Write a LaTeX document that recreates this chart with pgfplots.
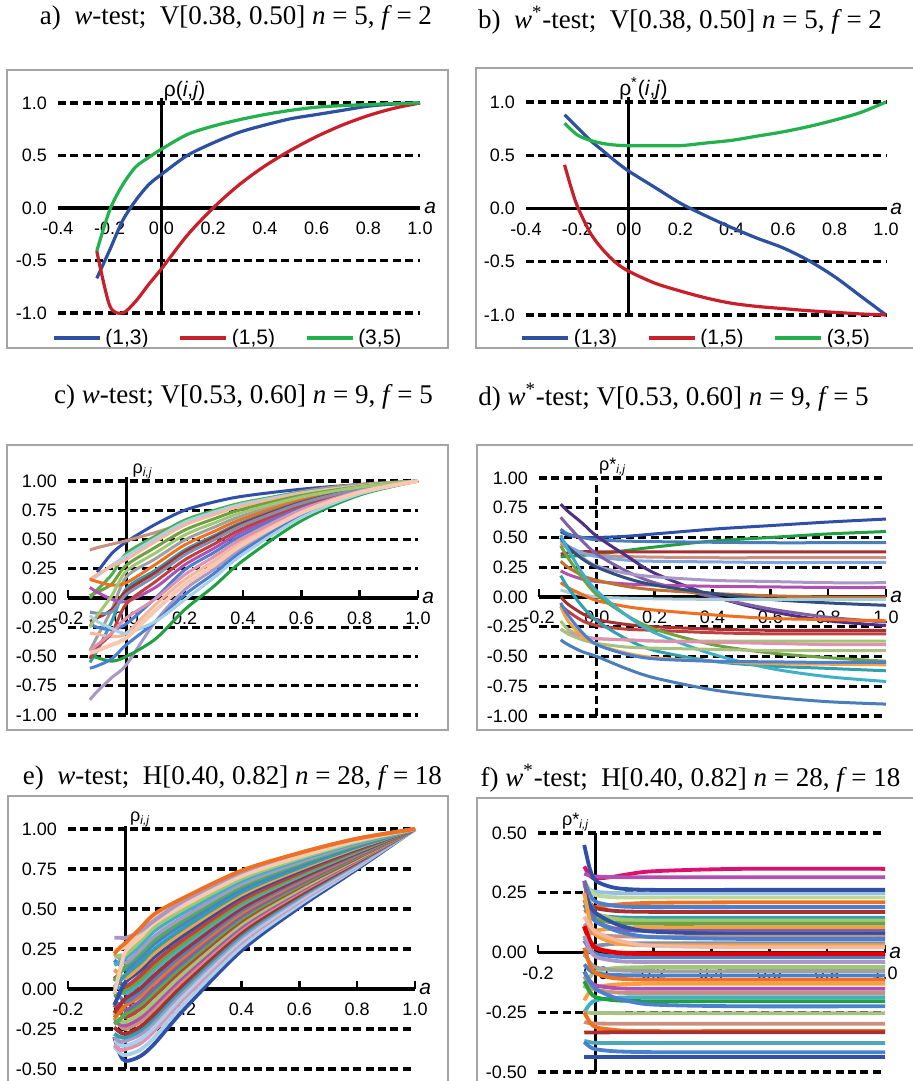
\documentclass[border=0pt]{standalone}
\usepackage{fontspec}
\setmainfont{Liberation Serif}
\setsansfont{Liberation Sans}
\usepackage{pgfplots}
\pgfplotsset{compat=1.18}

\definecolor{ablue}{HTML}{2E50A0}
\definecolor{ared}{HTML}{C8202A}
\definecolor{agreen}{HTML}{22B14C}
\definecolor{boxgray}{HTML}{A4A4A4}
\definecolor{pBlueD}{HTML}{3050A8}
\definecolor{pSalm}{HTML}{C89080}
\definecolor{pGreen}{HTML}{4CB04C}
\definecolor{pLBlue}{HTML}{A8D0E8}
\definecolor{pPeach}{HTML}{F4B8A0}
\definecolor{pOlive}{HTML}{70A040}
\definecolor{pGray}{HTML}{A0A0A0}
\definecolor{pOrange}{HTML}{F07020}
\definecolor{pTeal}{HTML}{30A0B0}
\definecolor{pDRed}{HTML}{A83030}
\definecolor{pMag}{HTML}{B050B0}
\definecolor{pBlue}{HTML}{4A80D0}
\definecolor{pLav}{HTML}{A898C8}
\definecolor{pLPeach}{HTML}{F8C8B0}
\definecolor{pGreenD}{HTML}{20A040}
\definecolor{pRed}{HTML}{C04040}
\definecolor{pGBlue}{HTML}{8090B0}
\definecolor{pLGreen}{HTML}{A0C870}
\definecolor{pPink}{HTML}{E090B0}
\definecolor{pDPurp}{HTML}{503080}
\definecolor{pPurp}{HTML}{8060A8}
\definecolor{pBrown}{HTML}{C07030}
\definecolor{pAqua}{HTML}{40B0C8}
\definecolor{pLOrange}{HTML}{F8A040}
\definecolor{pSlate}{HTML}{305080}
\definecolor{pPinkR}{HTML}{E0106A}
\definecolor{pSteel}{HTML}{4A7EB8}
\definecolor{pGGreen}{HTML}{A8C080}
\definecolor{pPale}{HTML}{A8CCD8}

\newcommand{\tickfont}{\sffamily\fontsize{9}{10}\selectfont}
\newcommand{\rhofont}{\sffamily\fontsize{10.5}{12}\selectfont}
\newcommand{\ttl}{\fontsize{13.5}{16}\selectfont}
\newcommand{\alab}{\sffamily\itshape\fontsize{10.5}{12}\selectfont}

\pgfplotsset{
  panel/.style={
    anchor=south west,
    scale only axis,
    clip=false,
    axis x line=middle,
    axis y line=left,
    hide obscured x ticks=false,
    hide obscured y ticks=false,
    x axis line style={-, line width=1.6pt},
    y axis line style={draw=none},
    ytick style={draw=none},
    xtick style={line width=1.2pt, black},
    xtick align=inside,
    major tick length=4pt,
    ymajorgrids,
    major grid style={black, line width=1.6pt, dash pattern=on 4pt off 2.2pt},
    tick label style={font=\tickfont},
    /pgf/number format/assume math mode=true,
    scaled ticks=false,
    xticklabel style={yshift=-3.5pt, /pgf/number format/fixed, /pgf/number format/fixed zerofill, /pgf/number format/precision=1},
    every axis plot/.append style={line width=1.3pt, smooth},
  },
  prec1/.style={yticklabel style={/pgf/number format/fixed, /pgf/number format/fixed zerofill, /pgf/number format/precision=1}},
  prec2/.style={yticklabel style={/pgf/number format/fixed, /pgf/number format/fixed zerofill, /pgf/number format/precision=2}},
  lgd/.style={
    legend columns=3,
    legend style={at={#1}, anchor=center, draw=none, fill=none, font=\rhofont,
      /tikz/every even column/.append style={column sep=13pt}},
    legend image code/.code={\draw[##1] (0pt,0pt) -- (23pt,0pt);},
  },
}

\begin{document}
\begin{tikzpicture}
\fill[white] (0,0) rectangle (456.5pt,540.5pt);

% ---------- a ----------
\begin{axis}[panel, prec1, at={(29pt,384pt)}, width=181pt, height=105pt,
  xmin=-0.4, xmax=1.0, ymin=-1, ymax=1,
  xtick={-0.4,-0.2,0,0.2,0.4,0.6,0.8,1.0}, ytick={-1,-0.5,0,0.5,1},
  xtick style={draw=none}, lgd={(0.472,-0.119)},
  every axis plot/.append style={line width=1.6pt}]
\draw[line width=1.6pt] (axis cs:0,-1) -- (axis cs:0,1.05);
\addplot[ablue] coordinates {(-0.25,-0.67)(-0.2,-0.4)(-0.15,-0.12)(-0.1,0.07)(-0.05,0.22)(0,0.32)(0.1,0.5)(0.2,0.62)(0.3,0.72)(0.4,0.79)(0.5,0.85)(0.6,0.89)(0.7,0.93)(0.8,0.97)(0.9,0.99)(1.0,1.0)};
\addlegendentry{(1,3)}
\addplot[ared] coordinates {(-0.25,-0.41)(-0.2,-0.93)(-0.15,-1.0)(-0.1,-0.89)(-0.05,-0.73)(0,-0.58)(0.1,-0.26)(0.2,0.0)(0.3,0.22)(0.4,0.40)(0.5,0.55)(0.6,0.68)(0.7,0.79)(0.8,0.88)(0.9,0.95)(1.0,1.0)};
\addlegendentry{(1,5)}
\addplot[agreen] coordinates {(-0.25,-0.41)(-0.2,-0.02)(-0.15,0.22)(-0.1,0.39)(-0.05,0.48)(0,0.56)(0.1,0.70)(0.2,0.78)(0.3,0.84)(0.4,0.89)(0.5,0.93)(0.6,0.96)(0.7,0.975)(0.8,0.985)(0.9,0.995)(1.0,1.0)};
\addlegendentry{(3,5)}
\node[font=\rhofont, anchor=south west, inner sep=1pt] at (axis cs:0,1) {ρ(\textit{i},\textit{j})};
\node[font=\alab, anchor=west, inner sep=2pt] at (axis cs:1.0,0) {a};
\end{axis}

% ---------- b ----------
\begin{axis}[panel, prec1, at={(263pt,383pt)}, width=180pt, height=106.5pt,
  xmin=-0.4, xmax=1.0, ymin=-1, ymax=1,
  xtick={-0.4,-0.2,0,0.2,0.4,0.6,0.8,1.0}, ytick={-1,-0.5,0,0.5,1},
  xtick style={draw=none}, lgd={(0.476,-0.108)},
  every axis plot/.append style={line width=1.6pt}]
\draw[line width=1.6pt] (axis cs:0,-1) -- (axis cs:0,1.05);
\addplot[ablue] coordinates {(-0.25,0.88)(-0.2,0.76)(-0.15,0.64)(-0.1,0.54)(-0.05,0.44)(0,0.35)(0.1,0.20)(0.2,0.05)(0.3,-0.07)(0.4,-0.18)(0.5,-0.28)(0.6,-0.37)(0.7,-0.49)(0.8,-0.64)(0.9,-0.82)(1.0,-1.0)};
\addlegendentry{(1,3)}
\addplot[ared] coordinates {(-0.25,0.41)(-0.225,0.2)(-0.2,0.02)(-0.15,-0.23)(-0.1,-0.39)(-0.05,-0.51)(0,-0.59)(0.1,-0.70)(0.2,-0.775)(0.3,-0.84)(0.4,-0.89)(0.5,-0.92)(0.6,-0.94)(0.7,-0.96)(0.8,-0.975)(0.9,-0.99)(1.0,-1.0)};
\addlegendentry{(1,5)}
\addplot[agreen] coordinates {(-0.25,0.80)(-0.2,0.69)(-0.15,0.64)(-0.1,0.61)(-0.05,0.595)(0,0.59)(0.1,0.59)(0.2,0.59)(0.3,0.615)(0.4,0.64)(0.5,0.68)(0.6,0.72)(0.7,0.77)(0.8,0.83)(0.9,0.90)(1.0,1.0)};
\addlegendentry{(3,5)}
\node[font=\rhofont, anchor=south west, inner sep=1pt, xshift=-6pt] at (axis cs:0,1) {ρ\textsuperscript{*}(\textit{i},\textit{j})};
\node[font=\alab, anchor=west, inner sep=2pt] at (axis cs:1.0,0) {a};
\end{axis}

% ---------- c ----------
\begin{axis}[panel, prec2, at={(34pt,183pt)}, width=175pt, height=117pt,
  xmin=-0.2, xmax=1.0, ymin=-1, ymax=1,
  xtick={-0.2,0,0.2,0.4,0.6,0.8,1.0}, ytick={-1,-0.75,-0.5,-0.25,0,0.25,0.5,0.75,1},
  every axis plot/.append style={line width=1.5pt}]
\draw[line width=1.6pt] (axis cs:0,-1) -- (axis cs:0,1.03);
\addplot[pBlueD] coordinates {(-0.1,0.22)(-0.05,0.38)(0,0.48)(0.1,0.63)(0.2,0.75)(0.3,0.82)(0.4,0.87)(0.6,0.93)(0.8,0.97)(1,1)};
\addplot[pSalm] coordinates {(-0.125,0.41)(-0.1,0.43)(-0.05,0.46)(0,0.49)(0.1,0.56)(0.2,0.64)(0.3,0.72)(0.4,0.80)(0.6,0.91)(0.8,0.97)(1,1)};
\addplot[pGreen] coordinates {(-0.125,0.0)(-0.1,0.07)(-0.05,0.2)(0,0.38)(0.1,0.53)(0.2,0.665)(0.3,0.748)(0.4,0.815)(0.6,0.903)(0.8,0.961)(1,1)};
\addplot[pLBlue] coordinates {(-0.125,0.15)(-0.1,0.19)(-0.05,0.28)(0,0.36)(0.1,0.51)(0.2,0.648)(0.3,0.734)(0.4,0.804)(0.6,0.898)(0.8,0.959)(1,1)};
\addplot[pPeach] coordinates {(-0.125,0.16)(-0.1,0.2)(-0.05,0.27)(0,0.33)(0.1,0.483)(0.2,0.623)(0.3,0.712)(0.4,0.788)(0.6,0.89)(0.8,0.957)(1,1)};
\addplot[pOlive] coordinates {(-0.125,0.02)(-0.1,0.05)(-0.05,0.12)(0,0.28)(0.1,0.434)(0.2,0.58)(0.3,0.676)(0.4,0.76)(0.6,0.876)(0.8,0.952)(1,1)};
\addplot[pGray] coordinates {(-0.125,-0.45)(-0.1,-0.33)(-0.05,-0.1)(0,0.18)(0.1,0.336)(0.2,0.495)(0.3,0.604)(0.4,0.705)(0.6,0.849)(0.8,0.943)(1,1)};
\addplot[pOrange] coordinates {(-0.125,0.16)(-0.1,0.14)(-0.05,0.11)(0,0.13)(0.1,0.287)(0.2,0.453)(0.3,0.568)(0.4,0.678)(0.6,0.836)(0.8,0.939)(1,1)};
\addplot[pTeal] coordinates {(-0.125,-0.55)(-0.1,-0.45)(-0.05,-0.2)(0,0.08)(0.1,0.238)(0.2,0.41)(0.3,0.532)(0.4,0.65)(0.6,0.822)(0.8,0.934)(1,1)};
\addplot[pDRed] coordinates {(-0.125,-0.2)(-0.1,-0.17)(-0.05,-0.1)(0,0.06)(0.1,0.218)(0.2,0.393)(0.3,0.518)(0.4,0.639)(0.6,0.817)(0.8,0.932)(1,1)};
\addplot[pMag] coordinates {(-0.125,0.09)(-0.1,0.05)(-0.05,-0.01)(0,-0.03)(0.1,0.091)(0.2,0.283)(0.3,0.424)(0.4,0.568)(0.6,0.782)(0.8,0.92)(1,1)};
\addplot[pBlue] coordinates {(-0.125,-0.22)(-0.1,-0.25)(-0.05,-0.27)(0,-0.22)(0.1,0.0)(0.2,0.24)(0.3,0.388)(0.4,0.54)(0.6,0.768)(0.8,0.916)(1,1)};
\addplot[pLav] coordinates {(-0.125,-0.87)(-0.1,-0.8)(-0.05,-0.68)(0,-0.57)(0.1,-0.2)(0.2,0.07)(0.3,0.244)(0.4,0.43)(0.6,0.714)(0.8,0.898)(1,1)};
\addplot[pPeach] coordinates {(-0.125,-0.3)(-0.1,-0.31)(-0.05,-0.33)(0,-0.3)(0.1,-0.056)(0.2,0.155)(0.3,0.316)(0.4,0.485)(0.6,0.741)(0.8,0.907)(1,1)};
\addplot[pGreenD] coordinates {(-0.125,-0.49)(-0.1,-0.51)(-0.05,-0.54)(0,-0.5)(0.1,-0.35)(0.2,-0.1)(0.3,0.1)(0.4,0.32)(0.6,0.66)(0.8,0.88)(1,1)};
\addplot[pRed] coordinates {(-0.125,-0.52)(-0.1,-0.42)(-0.05,-0.3)(0,-0.05)(0.1,0.14)(0.2,0.325)(0.3,0.46)(0.4,0.595)(0.6,0.795)(0.8,0.925)(1,1)};
\addplot[pGBlue] coordinates {(-0.125,-0.12)(-0.1,-0.13)(-0.05,-0.12)(0,0.03)(0.1,0.189)(0.2,0.368)(0.3,0.496)(0.4,0.623)(0.6,0.809)(0.8,0.93)(1,1)};
\addplot[pLGreen] coordinates {(-0.125,-0.25)(-0.1,-0.15)(-0.05,0.02)(0,0.23)(0.1,0.385)(0.2,0.538)(0.3,0.64)(0.4,0.733)(0.6,0.863)(0.8,0.948)(1,1)};
\addplot[pBlue] coordinates {(-0.125,-0.6)(-0.1,-0.58)(-0.05,-0.52)(0,-0.4)(0.1,-0.203)(0.2,0.028)(0.3,0.208)(0.4,0.403)(0.6,0.7)(0.8,0.894)(1,1)};
\addplot[pPink] coordinates {(-0.125,-0.45)(-0.1,-0.4)(-0.05,-0.3)(0,-0.17)(0.1,-0.007)(0.2,0.198)(0.3,0.352)(0.4,0.513)(0.6,0.755)(0.8,0.911)(1,1)};
\addplot[pLBlue] coordinates {(-0.125,-0.15)(-0.1,-0.2)(-0.05,-0.26)(0,-0.3)(0.1,-0.2)(0.2,-0.015)(0.3,0.172)(0.4,0.375)(0.6,0.687)(0.8,0.889)(1,1)};
\addplot[pLPeach, line width=2pt] coordinates {(-0.125,-0.47)(-0.1,-0.45)(-0.05,-0.4)(0,-0.34)(0.1,-0.105)(0.2,0.113)(0.3,0.28)(0.4,0.458)(0.6,0.728)(0.8,0.903)(1,1)};
\node[font=\tickfont, anchor=south west, inner sep=1pt, xshift=2pt] at (axis cs:0,1) {ρ\textsubscript{\textit{i,j}}};
\node[font=\alab, anchor=west, inner sep=2pt] at (axis cs:1.0,0) {a};
\end{axis}

% ---------- d ----------
\begin{axis}[panel, prec2, at={(269.5pt,182.5pt)}, width=173.5pt, height=119pt,
  xmin=-0.2, xmax=1.0, ymin=-1, ymax=1,
  xtick={-0.2,0,0.2,0.4,0.6,0.8,1.0}, ytick={-1,-0.75,-0.5,-0.25,0,0.25,0.5,0.75,1},
  every axis plot/.append style={line width=1.5pt}]
\draw[line width=1.6pt, dash pattern=on 4pt off 2.2pt] (axis cs:0,-1) -- (axis cs:0,1.0);
\addplot[pBlueD] coordinates {(-0.125,0.55)(-0.1,0.52)(-0.05,0.50)(0,0.50)(0.1,0.51)(0.2,0.53)(0.4,0.57)(0.6,0.60)(0.8,0.63)(1,0.655)};
\addplot[pGreenD] coordinates {(-0.125,0.34)(-0.1,0.34)(-0.05,0.35)(0,0.36)(0.1,0.39)(0.2,0.42)(0.4,0.47)(0.6,0.50)(0.8,0.53)(1,0.55)};
\addplot[pSteel] coordinates {(-0.125,0.57)(-0.1,0.53)(-0.05,0.50)(0,0.48)(0.1,0.47)(0.2,0.465)(0.4,0.46)(0.6,0.456)(0.8,0.456)(1,0.456)};
\addplot[pDRed] coordinates {(-0.125,0.36)(-0.1,0.37)(-0.05,0.38)(0,0.38)(0.1,0.38)(0.2,0.38)(0.4,0.38)(0.6,0.38)(0.8,0.38)(1,0.38)};
\addplot[pSalm] coordinates {(-0.125,0.45)(-0.1,0.41)(-0.05,0.37)(0,0.35)(0.1,0.34)(0.2,0.335)(0.4,0.33)(0.6,0.33)(0.8,0.33)(1,0.33)};
\addplot[pBlue!70] coordinates {(-0.125,0.48)(-0.1,0.43)(-0.05,0.37)(0,0.34)(0.1,0.31)(0.2,0.30)(0.4,0.295)(0.6,0.29)(0.8,0.29)(1,0.29)};
\addplot[pDPurp] coordinates {(-0.125,0.78)(-0.1,0.72)(-0.05,0.62)(0,0.51)(0.1,0.35)(0.2,0.20)(0.4,0.01)(0.6,-0.12)(0.8,-0.20)(1,-0.24)};
\addplot[pPurp] coordinates {(-0.125,0.67)(-0.1,0.60)(-0.05,0.47)(0,0.36)(0.1,0.22)(0.2,0.12)(0.4,0.0)(0.6,-0.10)(0.8,-0.17)(1,-0.21)};
\addplot[pLav] coordinates {(-0.125,0.47)(-0.1,0.42)(-0.05,0.33)(0,0.26)(0.1,0.20)(0.2,0.17)(0.4,0.14)(0.6,0.13)(0.8,0.12)(1,0.12)};
\addplot[pMag] coordinates {(-0.125,0.22)(-0.1,0.19)(-0.05,0.15)(0,0.13)(0.1,0.11)(0.2,0.10)(0.4,0.09)(0.6,0.085)(0.8,0.08)(1,0.08)};
\addplot[pBrown] coordinates {(-0.125,0.30)(-0.1,0.25)(-0.05,0.18)(0,0.14)(0.1,0.09)(0.2,0.06)(0.4,0.03)(0.6,0.01)(0.8,0.0)(1,0.0)};
\addplot[pSlate] coordinates {(-0.125,0.50)(-0.1,0.42)(-0.05,0.32)(0,0.25)(0.1,0.16)(0.2,0.10)(0.4,0.03)(0.6,-0.02)(0.8,-0.05)(1,-0.07)};
\addplot[pPale] coordinates {(-0.125,0.06)(-0.1,0.04)(-0.05,0.02)(0,0.0)(0.1,-0.01)(0.2,-0.015)(0.4,-0.02)(0.6,-0.02)(0.8,-0.02)(1,-0.02)};
\addplot[pOrange] coordinates {(-0.125,0.12)(-0.1,0.08)(-0.05,0.02)(0,-0.03)(0.1,-0.08)(0.2,-0.11)(0.4,-0.15)(0.6,-0.18)(0.8,-0.19)(1,-0.20)};
\addplot[pRed] coordinates {(-0.125,-0.07)(-0.1,-0.12)(-0.05,-0.20)(0,-0.24)(0.1,-0.27)(0.2,-0.28)(0.4,-0.30)(0.6,-0.31)(0.8,-0.31)(1,-0.31)};
\addplot[pDRed] coordinates {(-0.125,0.0)(-0.1,-0.06)(-0.05,-0.14)(0,-0.19)(0.1,-0.23)(0.2,-0.25)(0.4,-0.27)(0.6,-0.28)(0.8,-0.28)(1,-0.28)};
\addplot[pOlive] coordinates {(-0.125,0.43)(-0.1,0.33)(-0.05,0.16)(0,0.02)(0.1,-0.15)(0.2,-0.27)(0.4,-0.40)(0.6,-0.47)(0.8,-0.51)(1,-0.54)};
\addplot[pTeal] coordinates {(-0.125,0.18)(-0.1,0.08)(-0.05,-0.08)(0,-0.20)(0.1,-0.35)(0.2,-0.45)(0.4,-0.54)(0.6,-0.58)(0.8,-0.60)(1,-0.62)};
\addplot[pAqua] coordinates {(-0.125,0.52)(-0.1,0.40)(-0.05,0.20)(0,0.05)(0.1,-0.15)(0.2,-0.30)(0.4,-0.48)(0.6,-0.60)(0.8,-0.67)(1,-0.71)};
\addplot[pLGreen] coordinates {(-0.125,-0.20)(-0.1,-0.27)(-0.05,-0.33)(0,-0.35)(0.1,-0.36)(0.2,-0.37)(0.4,-0.37)(0.6,-0.37)(0.8,-0.37)(1,-0.37)};
\addplot[pPink] coordinates {(-0.125,-0.27)(-0.1,-0.30)(-0.05,-0.33)(0,-0.35)(0.1,-0.36)(0.2,-0.37)(0.4,-0.38)(0.6,-0.39)(0.8,-0.40)(1,-0.40)};
\addplot[pGGreen] coordinates {(-0.125,-0.27)(-0.1,-0.31)(-0.05,-0.36)(0,-0.39)(0.1,-0.42)(0.2,-0.43)(0.4,-0.44)(0.6,-0.45)(0.8,-0.45)(1,-0.45)};
\addplot[pLOrange] coordinates {(-0.125,-0.08)(-0.1,-0.20)(-0.05,-0.33)(0,-0.40)(0.1,-0.47)(0.2,-0.51)(0.4,-0.54)(0.6,-0.56)(0.8,-0.565)(1,-0.57)};
\addplot[pBlue] coordinates {(-0.125,-0.05)(-0.1,-0.15)(-0.05,-0.30)(0,-0.40)(0.1,-0.48)(0.2,-0.52)(0.4,-0.54)(0.6,-0.545)(0.8,-0.55)(1,-0.55)};
\addplot[pSteel] coordinates {(-0.125,-0.36)(-0.1,-0.40)(-0.05,-0.46)(0,-0.50)(0.1,-0.60)(0.2,-0.68)(0.4,-0.78)(0.6,-0.84)(0.8,-0.88)(1,-0.90)};
\node[font=\tickfont, anchor=south west, inner sep=1pt, xshift=0pt] at (axis cs:0,1) {ρ*\textsubscript{\textit{i,j}}};
\node[font=\alab, anchor=west, inner sep=2pt] at (axis cs:1.0,0) {a};
\end{axis}

% ---------- e ----------
\begin{axis}[panel, prec2, at={(34pt,6pt)}, width=173.5pt, height=120pt,
  xmin=-0.2, xmax=1.0, ymin=-0.5, ymax=1,
  xtick={-0.2,0,0.2,0.4,0.6,0.8,1.0}, ytick={-0.5,-0.25,0,0.25,0.5,0.75,1},
  every axis plot/.append style={line width=1.9pt}]
\draw[line width=1.6pt] (axis cs:0,-0.5) -- (axis cs:0,1.02);
\addplot[pBlueD] coordinates {(-0.04,-0.30)(-0.02,-0.41)(0,-0.45)(0.05,-0.42)(0.1,-0.34)(0.2,-0.13)(0.4,0.24)(0.6,0.51)(0.8,0.75)(1,1)};
\addplot[pLBlue] coordinates {(-0.04,-0.36)(-0.02,-0.40)(0,-0.413)(0.05,-0.38)(0.1,-0.30)(0.2,-0.095)(0.4,0.265)(0.6,0.527)(0.8,0.76)(1,1)};
\addplot[pPink] coordinates {(-0.04,-0.35)(-0.02,-0.38)(0,-0.376)(0.05,-0.34)(0.1,-0.259)(0.2,-0.06)(0.4,0.29)(0.6,0.544)(0.8,0.769)(1,1)};
\addplot[pLBlue] coordinates {(-0.04,-0.32)(-0.02,-0.35)(0,-0.354)(0.05,-0.316)(0.1,-0.235)(0.2,-0.039)(0.4,0.305)(0.6,0.554)(0.8,0.775)(1,1)};
\addplot[pLav] coordinates {(-0.04,-0.30)(-0.02,-0.33)(0,-0.324)(0.05,-0.284)(0.1,-0.202)(0.2,-0.011)(0.4,0.325)(0.6,0.568)(0.8,0.782)(1,1)};
\addplot[pTeal] coordinates {(-0.04,-0.28)(-0.02,-0.30)(0,-0.302)(0.05,-0.26)(0.1,-0.178)(0.2,0.01)(0.4,0.34)(0.6,0.578)(0.8,0.788)(1,1)};
\addplot[pDRed] coordinates {(-0.04,-0.24)(-0.02,-0.27)(0,-0.28)(0.05,-0.236)(0.1,-0.154)(0.2,0.031)(0.4,0.355)(0.6,0.588)(0.8,0.794)(1,1)};
\addplot[pSalm] coordinates {(-0.04,-0.18)(-0.02,-0.23)(0,-0.25)(0.05,-0.204)(0.1,-0.121)(0.2,0.059)(0.4,0.375)(0.6,0.602)(0.8,0.801)(1,1)};
\addplot[pMag] coordinates {(-0.04,-0.20)(-0.02,-0.22)(0,-0.228)(0.05,-0.18)(0.1,-0.097)(0.2,0.08)(0.4,0.39)(0.6,0.612)(0.8,0.807)(1,1)};
\addplot[pLGreen] coordinates {(-0.04,-0.15)(-0.02,-0.20)(0,-0.206)(0.05,-0.156)(0.1,-0.073)(0.2,0.101)(0.4,0.405)(0.6,0.622)(0.8,0.813)(1,1)};
\addplot[pRed] coordinates {(-0.04,-0.10)(-0.02,-0.14)(0,-0.176)(0.05,-0.124)(0.1,-0.04)(0.2,0.129)(0.4,0.425)(0.6,0.636)(0.8,0.82)(1,1)};
\addplot[pGreen] coordinates {(-0.04,-0.22)(-0.02,-0.19)(0,-0.154)(0.05,-0.10)(0.1,-0.016)(0.2,0.15)(0.4,0.44)(0.6,0.646)(0.8,0.826)(1,1)};
\addplot[pPurp] coordinates {(-0.04,-0.08)(-0.02,-0.10)(0,-0.132)(0.05,-0.076)(0.1,0.008)(0.2,0.171)(0.4,0.455)(0.6,0.656)(0.8,0.832)(1,1)};
\addplot[pOrange] coordinates {(-0.04,-0.18)(-0.02,-0.14)(0,-0.102)(0.05,-0.044)(0.1,0.041)(0.2,0.199)(0.4,0.475)(0.6,0.67)(0.8,0.839)(1,1)};
\addplot[pBlue] coordinates {(-0.04,-0.02)(-0.02,-0.05)(0,-0.08)(0.05,-0.02)(0.1,0.065)(0.2,0.22)(0.4,0.49)(0.6,0.68)(0.8,0.845)(1,1)};
\addplot[pDRed] coordinates {(-0.04,-0.15)(-0.02,-0.10)(0,-0.058)(0.05,0.004)(0.1,0.089)(0.2,0.241)(0.4,0.505)(0.6,0.69)(0.8,0.851)(1,1)};
\addplot[pAqua] coordinates {(-0.04,0.03)(-0.02,0.0)(0,-0.028)(0.05,0.036)(0.1,0.122)(0.2,0.269)(0.4,0.525)(0.6,0.704)(0.8,0.858)(1,1)};
\addplot[pOlive] coordinates {(-0.04,-0.05)(-0.02,-0.03)(0,-0.006)(0.05,0.06)(0.1,0.146)(0.2,0.29)(0.4,0.54)(0.6,0.714)(0.8,0.864)(1,1)};
\addplot[pRed] coordinates {(-0.04,0.08)(-0.02,0.04)(0,0.016)(0.05,0.084)(0.1,0.17)(0.2,0.311)(0.4,0.555)(0.6,0.724)(0.8,0.87)(1,1)};
\addplot[pBlueD] coordinates {(-0.04,-0.10)(-0.02,-0.02)(0,0.046)(0.05,0.116)(0.1,0.203)(0.2,0.339)(0.4,0.575)(0.6,0.738)(0.8,0.877)(1,1)};
\addplot[pLOrange] coordinates {(-0.04,0.12)(-0.02,0.09)(0,0.068)(0.05,0.14)(0.1,0.227)(0.2,0.36)(0.4,0.59)(0.6,0.748)(0.8,0.883)(1,1)};
\addplot[pTeal] coordinates {(-0.04,0.0)(-0.02,0.05)(0,0.09)(0.05,0.164)(0.1,0.251)(0.2,0.381)(0.4,0.605)(0.6,0.758)(0.8,0.889)(1,1)};
\addplot[pBlue] coordinates {(-0.04,0.18)(-0.02,0.15)(0,0.12)(0.05,0.196)(0.1,0.284)(0.2,0.409)(0.4,0.625)(0.6,0.772)(0.8,0.896)(1,1)};
\addplot[pGreen] coordinates {(-0.04,0.05)(-0.02,0.10)(0,0.142)(0.05,0.22)(0.1,0.308)(0.2,0.43)(0.4,0.64)(0.6,0.782)(0.8,0.902)(1,1)};
\addplot[pLav] coordinates {(-0.04,0.22)(-0.02,0.19)(0,0.164)(0.05,0.244)(0.1,0.332)(0.2,0.451)(0.4,0.655)(0.6,0.792)(0.8,0.908)(1,1)};
\addplot[pAqua] coordinates {(-0.04,0.15)(-0.02,0.17)(0,0.194)(0.05,0.276)(0.1,0.365)(0.2,0.479)(0.4,0.675)(0.6,0.806)(0.8,0.915)(1,1)};
\addplot[pLGreen] coordinates {(-0.04,0.20)(-0.02,0.21)(0,0.216)(0.05,0.30)(0.1,0.389)(0.2,0.50)(0.4,0.69)(0.6,0.816)(0.8,0.921)(1,1)};
\addplot[pLPeach] coordinates {(-0.04,-0.03)(-0.02,0.12)(0,0.238)(0.05,0.324)(0.1,0.413)(0.2,0.521)(0.4,0.705)(0.6,0.826)(0.8,0.927)(1,1)};
\addplot[pLPeach] coordinates {(-0.04,0.24)(-0.02,0.25)(0,0.268)(0.05,0.356)(0.1,0.446)(0.2,0.549)(0.4,0.725)(0.6,0.84)(0.8,0.934)(1,1)};
\addplot[pLav] coordinates {(-0.04,0.32)(-0.02,0.32)(0,0.32)(0.05,0.36)(0.1,0.43)(0.2,0.55)(0.4,0.73)(0.6,0.85)(0.8,0.94)(1,1)};
\addplot[pOrange] coordinates {(-0.04,0.22)(-0.02,0.26)(0,0.29)(0.05,0.38)(0.1,0.47)(0.2,0.57)(0.4,0.74)(0.6,0.85)(0.8,0.94)(1,1)};
\node[font=\tickfont, anchor=south west, inner sep=1pt, xshift=1pt] at (axis cs:0,1) {ρ\textsubscript{\textit{i,j}}};
\node[font=\alab, anchor=west, inner sep=2pt] at (axis cs:1.0,0) {a};
\end{axis}

% ---------- f ----------
\begin{axis}[panel, prec2, at={(269pt,4.5pt)}, width=173.5pt, height=119.5pt,
  xmin=-0.2, xmax=1.0, ymin=-0.5, ymax=0.5,
  xtick={-0.2,0,0.2,0.4,0.6,0.8,1.0}, ytick={-0.5,-0.25,0,0.25,0.5},
  every axis plot/.append style={line width=1.9pt}]
\draw[line width=1.6pt] (axis cs:0,-0.5) -- (axis cs:0,0.5);
\addplot[pPinkR] coordinates {(-0.04,0.36)(-0.02,0.32)(0,0.31)(0.05,0.315)(0.1,0.325)(0.2,0.34)(0.5,0.35)(1,0.35)};
\addplot[pMag] coordinates {(-0.04,0.33)(-0.02,0.322)(0,0.318)(0.05,0.316)(0.1,0.315)(0.2,0.315)(0.5,0.315)(1,0.315)};
\addplot[pLBlue!80!pBlue] coordinates {(-0.04,0.28)(-0.02,0.262)(0,0.254)(0.05,0.25)(0.1,0.248)(0.2,0.248)(0.5,0.248)(1,0.248)};
\addplot[pBlueD] coordinates {(-0.04,0.45)(-0.02,0.347)(0,0.30)(0.05,0.275)(0.1,0.266)(0.2,0.262)(0.5,0.262)(1,0.262)};
\addplot[pLGreen!70] coordinates {(-0.04,0.30)(-0.02,0.26)(0,0.24)(0.05,0.232)(0.1,0.23)(0.2,0.23)(0.5,0.23)(1,0.23)};
\addplot[pOrange] coordinates {(-0.04,0.17)(-0.02,0.182)(0,0.19)(0.05,0.198)(0.1,0.203)(0.2,0.208)(0.5,0.21)(1,0.21)};
\addplot[pBlue] coordinates {(-0.04,0.30)(-0.02,0.24)(0,0.212)(0.05,0.198)(0.1,0.192)(0.2,0.19)(0.5,0.19)(1,0.19)};
\addplot[pDRed] coordinates {(-0.04,0.25)(-0.02,0.206)(0,0.186)(0.05,0.176)(0.1,0.172)(0.2,0.17)(0.5,0.17)(1,0.17)};
\addplot[pTeal] coordinates {(-0.04,0.20)(-0.02,0.17)(0,0.156)(0.05,0.149)(0.1,0.146)(0.2,0.145)(0.5,0.145)(1,0.145)};
\addplot[pLGreen] coordinates {(-0.04,0.29)(-0.02,0.204)(0,0.165)(0.05,0.145)(0.1,0.137)(0.2,0.134)(0.5,0.134)(1,0.134)};
\addplot[pOlive] coordinates {(-0.04,0.22)(-0.02,0.165)(0,0.14)(0.05,0.127)(0.1,0.122)(0.2,0.12)(0.5,0.12)(1,0.12)};
\addplot[pLOrange] coordinates {(-0.04,0.05)(-0.02,0.079)(0,0.092)(0.05,0.099)(0.1,0.102)(0.2,0.103)(0.5,0.103)(1,0.103)};
\addplot[pPurp] coordinates {(-0.04,0.30)(-0.02,0.185)(0,0.132)(0.05,0.105)(0.1,0.094)(0.2,0.09)(0.5,0.09)(1,0.09)};
\addplot[pBlueD] coordinates {(-0.04,0.25)(-0.02,0.198)(0,0.164)(0.05,0.13)(0.1,0.107)(0.2,0.087)(0.5,0.078)(1,0.078)};
\addplot[pSalm] coordinates {(-0.04,0.12)(-0.02,0.09)(0,0.075)(0.05,0.069)(0.1,0.067)(0.2,0.066)(0.5,0.066)(1,0.066)};
\addplot[pBlue] coordinates {(-0.04,0.20)(-0.02,0.157)(0,0.129)(0.05,0.10)(0.1,0.081)(0.2,0.064)(0.5,0.057)(1,0.057)};
\addplot[pGBlue] coordinates {(-0.04,-0.02)(-0.02,0.012)(0,0.027)(0.05,0.035)(0.1,0.038)(0.2,0.039)(0.5,0.039)(1,0.039)};
\addplot[pLOrange] coordinates {(-0.04,0.25)(-0.02,0.129)(0,0.074)(0.05,0.045)(0.1,0.034)(0.2,0.03)(0.5,0.03)(1,0.03)};
\addplot[pPeach] coordinates {(-0.04,0.15)(-0.02,0.112)(0,0.086)(0.05,0.06)(0.1,0.044)(0.2,0.028)(0.5,0.022)(1,0.022)};
\addplot[pBlue] coordinates {(-0.04,0.05)(-0.02,0.012)(0,-0.006)(0.05,-0.015)(0.1,-0.019)(0.2,-0.02)(0.5,-0.02)(1,-0.02)};
\addplot[red!90!black, line width=2.3pt] coordinates {(-0.04,0.11)(-0.02,0.047)(0,0.018)(0.05,0.003)(0.1,-0.003)(0.2,-0.005)(0.5,-0.005)(1,-0.005)};
\addplot[pLav] coordinates {(-0.04,0.07)(-0.02,0.01)(0,-0.018)(0.05,-0.032)(0.1,-0.038)(0.2,-0.04)(0.5,-0.04)(1,-0.04)};
\addplot[pLGreen] coordinates {(-0.04,-0.15)(-0.02,-0.101)(0,-0.079)(0.05,-0.067)(0.1,-0.063)(0.2,-0.061)(0.5,-0.061)(1,-0.061)};
\addplot[pGray] coordinates {(-0.04,0.0)(-0.02,-0.043)(0,-0.062)(0.05,-0.073)(0.1,-0.076)(0.2,-0.078)(0.5,-0.078)(1,-0.078)};
\addplot[pBlue] coordinates {(-0.04,-0.05)(-0.02,-0.075)(0,-0.087)(0.05,-0.093)(0.1,-0.095)(0.2,-0.096)(0.5,-0.096)(1,-0.096)};
\addplot[pOrange] coordinates {(-0.04,0.02)(-0.02,-0.054)(0,-0.087)(0.05,-0.105)(0.1,-0.111)(0.2,-0.114)(0.5,-0.114)(1,-0.114)};
\addplot[pLOrange] coordinates {(-0.04,-0.2)(-0.02,-0.162)(0,-0.145)(0.05,-0.136)(0.1,-0.132)(0.2,-0.131)(0.5,-0.131)(1,-0.131)};
\addplot[pMag] coordinates {(-0.04,-0.08)(-0.02,-0.12)(0,-0.138)(0.05,-0.147)(0.1,-0.151)(0.2,-0.152)(0.5,-0.152)(1,-0.152)};
\addplot[pSalm] coordinates {(-0.04,-0.1)(-0.02,-0.139)(0,-0.156)(0.05,-0.165)(0.1,-0.169)(0.2,-0.17)(0.5,-0.17)(1,-0.17)};
\addplot[pAqua] coordinates {(-0.04,-0.25)(-0.02,-0.215)(0,-0.2)(0.05,-0.191)(0.1,-0.188)(0.2,-0.187)(0.5,-0.187)(1,-0.187)};
\addplot[pGreenD] coordinates {(-0.04,-0.12)(-0.02,-0.166)(0,-0.187)(0.05,-0.198)(0.1,-0.202)(0.2,-0.204)(0.5,-0.204)(1,-0.204)};
\addplot[pBlue] coordinates {(-0.04,-0.08)(-0.02,-0.124)(0,-0.153)(0.05,-0.182)(0.1,-0.2)(0.2,-0.218)(0.5,-0.225)(1,-0.225)};
\addplot[pGGreen] coordinates {(-0.04,-0.25)(-0.02,-0.252)(0,-0.253)(0.2,-0.254)(1,-0.254)};
\addplot[pSalm] coordinates {(-0.04,-0.29)(0,-0.297)(0.2,-0.298)(1,-0.298)};
\addplot[pOrange] coordinates {(-0.04,-0.25)(-0.02,-0.293)(0,-0.313)(0.05,-0.322)(0.1,-0.327)(0.2,-0.329)(0.5,-0.329)(1,-0.329)};
\addplot[pDRed] coordinates {(-0.04,-0.335)(0.1,-0.334)(1,-0.334)};
\addplot[pAqua!80!gray] coordinates {(-0.04,-0.37)(-0.02,-0.375)(0,-0.378)(0.1,-0.379)(1,-0.379)};
\addplot[pBlue] coordinates {(-0.04,-0.375)(-0.02,-0.395)(0,-0.405)(0.05,-0.412)(0.1,-0.415)(0.2,-0.417)(0.5,-0.417)(1,-0.417)};
\addplot[pBlueD] coordinates {(-0.04,-0.438)(0.5,-0.438)(1,-0.438)};
\node[font=\tickfont, anchor=south west, inner sep=1pt, xshift=-18pt] at (axis cs:0,0.5) {ρ*\textsubscript{\textit{i,j}}};
\node[font=\alab, anchor=west, inner sep=2pt] at (axis cs:1.0,0) {a};
\end{axis}

% panel frames
\draw[boxgray, line width=1.4pt] (3.5pt,366.5pt) rectangle (224pt,505.5pt);
\draw[boxgray, line width=1.4pt] (238pt,366.5pt) rectangle (470pt,506.5pt);
\draw[boxgray, line width=1.4pt] (3.5pt,175.5pt) rectangle (224pt,318pt);
\draw[boxgray, line width=1.4pt] (238.5pt,175.5pt) rectangle (470pt,318pt);
\draw[boxgray, line width=1.4pt] (4pt,-10pt) rectangle (224pt,142.5pt);
\draw[boxgray, line width=1.4pt] (238.5pt,-10pt) rectangle (470pt,141.5pt);

% titles
\node[font=\ttl] at (118pt,531.5pt) {a)\ \ \textit{w}-test;\ \ V[0.38, 0.50] \textit{n} = 5, \textit{f}\,= 2};
\node[font=\ttl] at (340pt,530.5pt) {b)\ \ \textit{w}\textsuperscript{*}-test;\ \ V[0.38, 0.50] \textit{n} = 5, \textit{f}\,= 2};
\node[font=\ttl] at (121.75pt,342pt) {c) \textit{w}-test; V[0.53, 0.60] \textit{n} = 9, \textit{f}\,= 5};
\node[font=\ttl] at (336.75pt,342pt) {d) \textit{w}\textsuperscript{*}-test; V[0.53, 0.60] \textit{n} = 9, \textit{f}\,= 5};
\node[font=\ttl] at (116.25pt,151.5pt) {e)\ \ \textit{w}-test;\ \ H[0.40, 0.82] \textit{n} = 28, \textit{f}\,= 18};
\node[font=\ttl] at (345.25pt,151.5pt) {f) \textit{w}\textsuperscript{*}-test;\ \ H[0.40, 0.82] \textit{n} = 28, \textit{f}\,= 18};

\pgfresetboundingbox
\useasboundingbox (0,0) rectangle (456.5pt,540.5pt);
\end{tikzpicture}
\end{document}
